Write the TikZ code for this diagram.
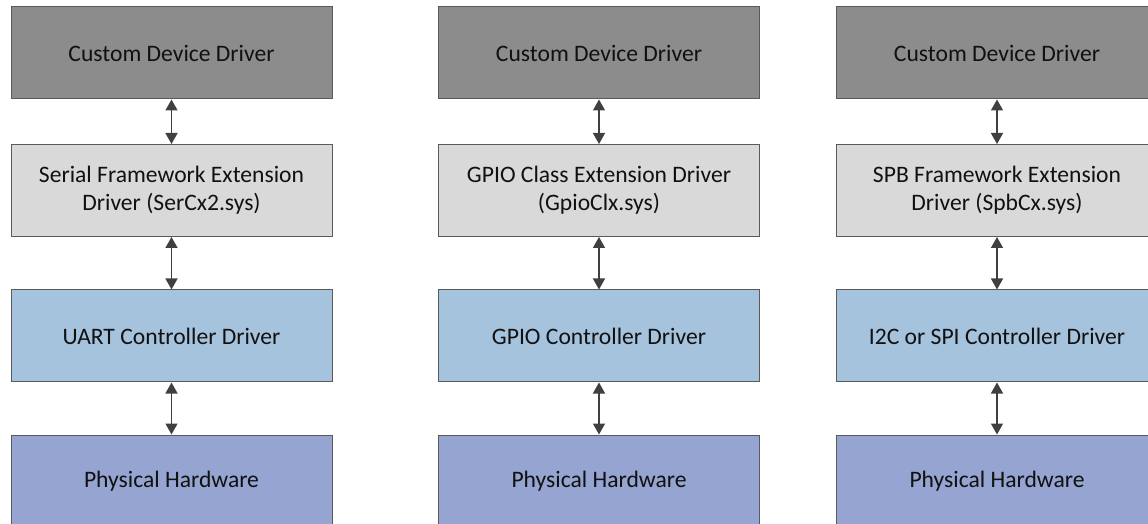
\documentclass[tikz,border=0pt]{standalone}
\usepackage{fontspec}
\setmainfont{Carlito}
\usetikzlibrary{arrows.meta}
\definecolor{drvfill}{HTML}{8C8C8C}
\definecolor{extfill}{HTML}{D9D9D9}
\definecolor{ctlfill}{HTML}{A6C3DD}
\definecolor{hwfill}{HTML}{95A4D1}
\definecolor{edge}{HTML}{5A5A5A}
\definecolor{arrowc}{HTML}{404040}
\definecolor{ink}{HTML}{111111}
\begin{document}
\begin{tikzpicture}[x=0.5pt,y=-0.5pt,
  layer/.style={draw=edge, line width=0.5pt, minimum width=160.5pt,
    minimum height=46pt, inner sep=0pt, align=center, text=ink,
    font=\fontsize{11.8}{14.2}\selectfont},
  link/.style={draw=arrowc, line width=0.75pt,
    {Triangle[width=6pt,length=5.5pt]}-{Triangle[width=6pt,length=5.5pt]}}]
\useasboundingbox (0,0) rectangle (1148,524);
\clip (0,0) rectangle (1148,524);

% Serial stack
\node[layer, fill=drvfill] (s1) at (171.5,53)  {Custom Device Driver};
\node[layer, fill=extfill] (s2) at (171.5,190.5) {Serial Framework Extension\\Driver (SerCx2.sys)};
\node[layer, fill=ctlfill] (s3) at (171.5,336) {UART Controller Driver};
\node[layer, fill=hwfill]  (s4) at (171.5,481) {Physical Hardware};

% GPIO stack
\node[layer, fill=drvfill] (g1) at (599,53)  {Custom Device Driver};
\node[layer, fill=extfill] (g2) at (599,190.5) {GPIO Class Extension Driver\\(GpioClx.sys)};
\node[layer, fill=ctlfill] (g3) at (599,336) {GPIO Controller Driver};
\node[layer, fill=hwfill]  (g4) at (599,481) {Physical Hardware};

% SPB stack
\node[layer, fill=drvfill] (p1) at (997,53)  {Custom Device Driver};
\node[layer, fill=extfill] (p2) at (997,190.5) {SPB Framework Extension\\Driver (SpbCx.sys)};
\node[layer, fill=ctlfill] (p3) at (997,336) {I2C or SPI Controller Driver};
\node[layer, fill=hwfill]  (p4) at (997,481) {Physical Hardware};

\foreach \c in {s,g,p}{
  \draw[link] (\c1.south) -- (\c2.north);
  \draw[link] (\c2.south) -- (\c3.north);
  \draw[link] (\c3.south) -- (\c4.north);
}
\end{tikzpicture}
\end{document}
